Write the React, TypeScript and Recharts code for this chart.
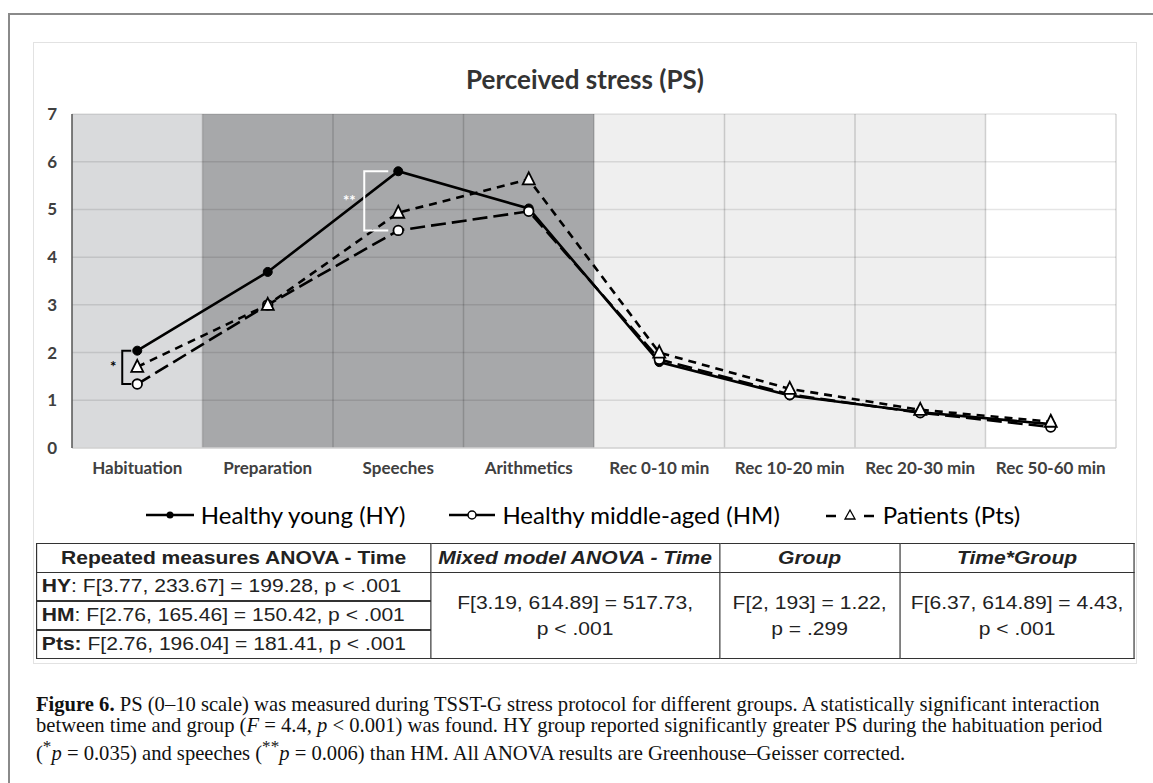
import {
  LineChart,
  Line,
  XAxis,
  YAxis,
  ReferenceArea,
  ReferenceLine,
  Legend,
} from "recharts";

const categories = [
  "Habituation",
  "Preparation",
  "Speeches",
  "Arithmetics",
  "Rec 0-10 min",
  "Rec 10-20 min",
  "Rec 20-30 min",
  "Rec 50-60 min",
];
const healthyYoung = [2.04, 3.69, 5.8, 5.02, 1.8, 1.1, 0.75, 0.5];
const healthyMiddle = [1.34, 3.0, 4.56, 4.96, 1.86, 1.12, 0.74, 0.44];
const patients = [1.7, 3.0, 4.93, 5.63, 2.0, 1.24, 0.8, 0.55];
const yTicks = [0, 1, 2, 3, 4, 5, 6, 7];

const data = categories.map((name, i) => ({
  name,
  hy: healthyYoung[i],
  hm: healthyMiddle[i],
  pts: patients[i],
}));

const FONT = "Lato, 'Noto Sans', sans-serif";
const tickStyle = { fontSize: 17, fontWeight: 700, fill: "#404040", fontFamily: FONT };

function TriangleDot(props: any) {
  const { cx, cy } = props;
  if (cx == null || cy == null) return <g />;
  return (
    <path
      d={`M${cx},${cy - 7} L${cx + 6},${cy + 5} L${cx - 6},${cy + 5} Z`}
      fill="#fff"
      stroke="#000"
      strokeWidth={1.8}
      strokeDasharray="none"
    />
  );
}

// significance bracket drawn next to a category, between two values
function bracket(color: string, dx: number, arm: number, label: string, labelDx: number) {
  return (p: any) => {
    const x = p.x1 - dx;
    return (
      <g>
        <path
          d={`M${x + arm},${p.y1} H${x} V${p.y2} H${x + arm}`}
          fill="none"
          stroke={color}
          strokeWidth={2}
        />
        <text
          x={p.x1 - labelDx}
          y={(p.y1 + p.y2) / 2 + 5}
          textAnchor="middle"
          fill={color}
          fontSize={15}
          fontWeight={700}
          fontFamily={FONT}
        >
          {label}
        </text>
      </g>
    );
  };
}

function LegendIcon({ kind }: { kind: string }) {
  if (kind === "hy")
    return (
      <svg width={48} height={12}>
        <line x1={0} y1={6} x2={48} y2={6} stroke="#000" strokeWidth={2.5} />
        <circle cx={24} cy={6} r={3.5} fill="#000" />
      </svg>
    );
  if (kind === "hm")
    return (
      <svg width={46} height={12}>
        <line x1={0} y1={6} x2={46} y2={6} stroke="#000" strokeWidth={2.5} />
        <circle cx={23} cy={6} r={4} fill="#fff" stroke="#000" strokeWidth={1.5} />
      </svg>
    );
  return (
    <svg width={52} height={14}>
      <line x1={2} y1={8} x2={12} y2={8} stroke="#000" strokeWidth={2.5} />
      <path d="M26,2 L31,11 L21,11 Z" fill="#fff" stroke="#000" strokeWidth={1.3} />
      <line x1={40} y1={8} x2={50} y2={8} stroke="#000" strokeWidth={2.5} />
    </svg>
  );
}

const legendItems = [
  { kind: "hy", label: "Healthy young (HY)" },
  { kind: "hm", label: "Healthy middle-aged (HM)" },
  { kind: "pts", label: "Patients (Pts)" },
];

function renderLegend() {
  return (
    <div
      style={{
        display: "flex",
        justifyContent: "center",
        alignItems: "center",
        gap: 44,
        fontFamily: FONT,
        fontSize: 24,
        color: "#000",
        paddingLeft: 13,
      }}
    >
      {legendItems.map((it) => (
        <div key={it.kind} style={{ display: "flex", alignItems: "center", gap: 7 }}>
          <LegendIcon kind={it.kind} />
          <span>{it.label}</span>
        </div>
      ))}
    </div>
  );
}

const cell: React.CSSProperties = {
  border: "1.5px solid #333",
  padding: "0 4px",
  whiteSpace: "nowrap",
};

function StatsTable() {
  const scale = 1.17;
  const widths = [336.8, 247, 153.8, 200.9];
  const head = { ...cell, fontWeight: 700, textAlign: "center" as const, height: 28 };
  const left = { ...cell, height: 27, borderBottomWidth: 2.5 };
  const mid = { ...cell, textAlign: "center" as const, lineHeight: "26px" };
  return (
    <div
      style={{
        position: "absolute",
        left: 36,
        top: 543,
        transform: `scaleX(${scale})`,
        transformOrigin: "0 0",
        fontFamily: "'Liberation Sans', Arial, sans-serif",
        fontSize: 18,
        color: "#222",
        background: "#fff",
      }}
    >
      <table style={{ borderCollapse: "collapse", tableLayout: "fixed" }}>
        <colgroup>
          {widths.map((w, i) => (
            <col key={i} style={{ width: w }} />
          ))}
        </colgroup>
        <tbody>
          <tr>
            <td style={head}>Repeated measures ANOVA - Time</td>
            <td style={{ ...head, fontStyle: "italic" }}>Mixed model ANOVA - Time</td>
            <td style={{ ...head, fontStyle: "italic" }}>Group</td>
            <td style={{ ...head, fontStyle: "italic" }}>Time*Group</td>
          </tr>
          <tr>
            <td style={left}>
              <b>HY</b>: F[3.77, 233.67] = 199.28, p &lt; .001
            </td>
            <td style={mid} rowSpan={3}>
              F[3.19, 614.89] = 517.73,
              <br />p &lt; .001
            </td>
            <td style={mid} rowSpan={3}>
              F[2, 193] = 1.22,
              <br />p = .299
            </td>
            <td style={mid} rowSpan={3}>
              F[6.37, 614.89] = 4.43,
              <br />p &lt; .001
            </td>
          </tr>
          <tr>
            <td style={left}>
              <b>HM</b>: F[2.76, 165.46] = 150.42, p &lt; .001
            </td>
          </tr>
          <tr>
            <td style={{ ...left, borderBottomWidth: 1.5 }}>
              <b>Pts:</b> F[2.76, 196.04] = 181.41, p &lt; .001
            </td>
          </tr>
        </tbody>
      </table>
    </div>
  );
}

function Caption() {
  const line: React.CSSProperties = { whiteSpace: "nowrap", height: 21 };
  return (
    <div
      style={{
        position: "absolute",
        left: 36,
        top: 694,
        fontFamily: "'Liberation Serif', 'Times New Roman', serif",
        fontSize: 20.6,
        lineHeight: "21px",
        color: "#111",
      }}
    >
      <div style={line}>
        <b>Figure 6.</b> PS (0–10 scale) was measured during TSST-G stress protocol for different groups. A
        statistically significant interaction
      </div>
      <div style={line}>
        between time and group (<i>F</i> = 4.4, <i>p</i> &lt; 0.001) was found. HY group reported significantly
        greater PS during the habituation period
      </div>
      <div style={line}>
        (<sup>*</sup>
        <i>p</i> = 0.035) and speeches (<sup>**</sup>
        <i>p</i> = 0.006) than HM. All ANOVA results are Greenhouse–Geisser corrected.
      </div>
    </div>
  );
}

export default function App() {
  const bandLines = categories.slice(1);
  return (
    <div style={{ position: "absolute", left: 0, top: 0, width: 1153, height: 783, background: "#fff", overflow: "hidden" }}>
      {/* outer frame */}
      <div
        style={{
          position: "absolute",
          left: 8,
          top: 13,
          width: 1160,
          height: 800,
          borderLeft: "2px solid #8a8a8a",
          borderTop: "2px solid #8a8a8a",
        }}
      />
      {/* inner chart box */}
      <div
        style={{
          position: "absolute",
          left: 33,
          top: 42,
          width: 1102,
          height: 620,
          border: "1px solid #e2e2e2",
        }}
      />
      <div
        style={{
          position: "absolute",
          left: 0,
          top: 64,
          width: 1170,
          textAlign: "center",
          fontFamily: FONT,
          fontWeight: 700,
          fontSize: 26,
          lineHeight: 1.2,
          color: "#333",
        }}
      >
        Perceived stress (PS)
      </div>
      <div style={{ position: "absolute", left: 0, top: 0 }}>
        <LineChart
          width={1153}
          height={540}
          data={data}
          margin={{ top: 114, right: 37, left: 32, bottom: 62 }}
        >
          <ReferenceArea x1={categories[0]} x2={categories[0]} fill="#d9dadc" fillOpacity={1} stroke="none" />
          <ReferenceArea x1={categories[1]} x2={categories[3]} fill="#a7a8aa" fillOpacity={1} stroke="none" />
          <ReferenceArea x1={categories[4]} x2={categories[6]} fill="#efefef" fillOpacity={1} stroke="none" />
          {yTicks.slice(1).map((t) => (
            <ReferenceLine key={`h${t}`} y={t} stroke="#000" strokeOpacity={0.1} strokeWidth={1.5} />
          ))}
          {bandLines.map((c) => (
            <ReferenceLine key={`v${c}`} x={c} position="start" stroke="#000" strokeOpacity={0.16} strokeWidth={1.5} />
          ))}
          <ReferenceLine x={categories[7]} position="end" stroke="#000" strokeOpacity={0.16} strokeWidth={1.5} />
          <XAxis
            dataKey="name"
            scale="band"
            interval={0}
            tick={tickStyle}
            tickLine={false}
            tickSize={0}
            tickMargin={14}
            axisLine={{ stroke: "#d0d0d0", strokeWidth: 1.5 }}
            height={30}
          />
          <YAxis
            domain={[0, 7]}
            ticks={yTicks}
            interval={0}
            tick={tickStyle}
            tickLine={false}
            tickSize={0}
            tickMargin={15}
            axisLine={{ stroke: "#555", strokeWidth: 1.5 }}
            width={40}
          />
          <Line
            dataKey="hy"
            type="linear"
            stroke="#000"
            strokeWidth={2.6}
            dot={{ r: 4.5, fill: "#000", stroke: "#000", strokeWidth: 1 }}
            isAnimationActive={false}
          />
          <Line
            dataKey="hm"
            type="linear"
            stroke="#000"
            strokeWidth={2.6}
            strokeDasharray="15 6"
            dot={{ r: 4.8, fill: "#fff", stroke: "#000", strokeWidth: 1.8, strokeDasharray: "none" }}
            isAnimationActive={false}
          />
          <Line
            dataKey="pts"
            type="linear"
            stroke="#000"
            strokeWidth={2.6}
            strokeDasharray="8 6"
            dot={TriangleDot}
            isAnimationActive={false}
          />
          <ReferenceLine
            segment={[
              { x: categories[2], y: healthyYoung[2] },
              { x: categories[2], y: healthyMiddle[2] },
            ]}
            shape={bracket("#fff", 34, 24, "**", 49)}
          />
          <ReferenceLine
            segment={[
              { x: categories[0], y: healthyYoung[0] },
              { x: categories[0], y: healthyMiddle[0] },
            ]}
            shape={bracket("#000", 15, 9, "*", 24)}
          />
          <Legend
            layout="horizontal"
            verticalAlign="middle"
            align="center"
            content={renderLegend}
            wrapperStyle={{ top: 500, left: 0, width: 1153 }}
          />
        </LineChart>
      </div>
      <StatsTable />
      <Caption />
    </div>
  );
}
